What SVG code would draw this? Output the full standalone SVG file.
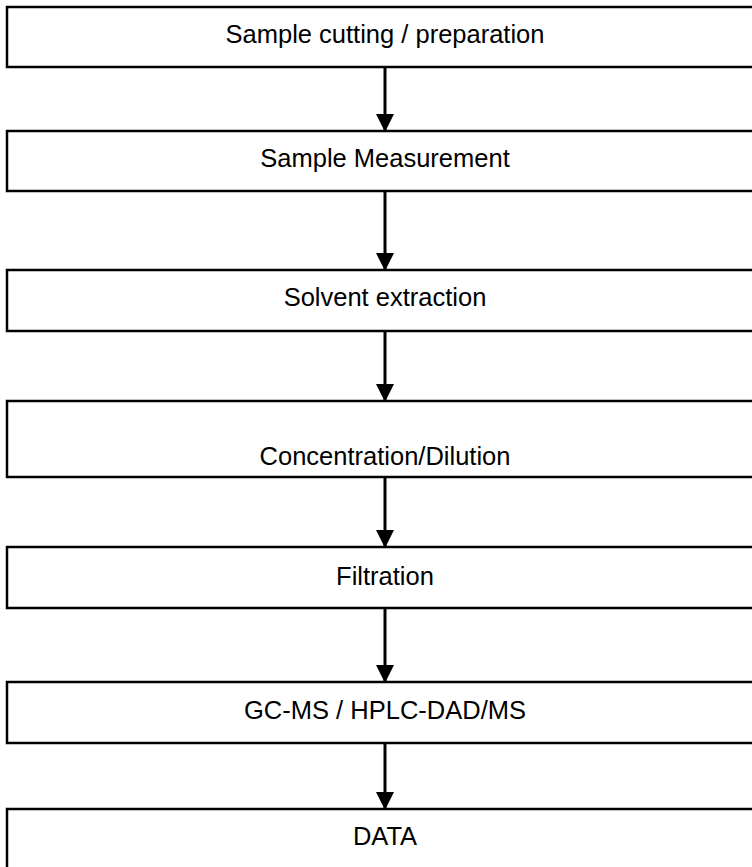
<svg xmlns="http://www.w3.org/2000/svg" width="752" height="867" viewBox="0 0 752 867">
<style>
.box{fill:#fff;stroke:#000;stroke-width:2.5}
.lbl{font-family:"Liberation Sans",Arial,sans-serif;font-size:25.5px;fill:#000;text-anchor:middle}
.con{stroke:#000;stroke-width:3;fill:none;marker-end:url(#ah)}
</style>
<defs>
<marker id="ah" markerUnits="userSpaceOnUse" markerWidth="18" markerHeight="18" refX="17" refY="9" orient="auto">
<path d="M0,0 L18,9 L0,18 Z" fill="#000"/>
</marker>
</defs>
<rect width="752" height="867" fill="#fff"/>
<g id="connectors">
<line class="con" x1="385" y1="67" x2="385" y2="131"/>
<line class="con" x1="385" y1="191" x2="385" y2="270"/>
<line class="con" x1="385" y1="331" x2="385" y2="401"/>
<line class="con" x1="385" y1="477" x2="385" y2="547"/>
<line class="con" x1="385" y1="608" x2="385" y2="682"/>
<line class="con" x1="385" y1="743" x2="385" y2="809"/>
</g>
<g id="n1"><rect class="box" x="7" y="7" width="760" height="60"/><text class="lbl" x="385" y="42.5">Sample cutting / preparation</text></g>
<g id="n2"><rect class="box" x="7" y="131" width="760" height="60"/><text class="lbl" x="385" y="166.5">Sample Measurement</text></g>
<g id="n3"><rect class="box" x="7" y="270" width="760" height="61"/><text class="lbl" x="385" y="306">Solvent extraction</text></g>
<g id="n4"><rect class="box" x="7" y="401" width="760" height="76"/><text class="lbl" x="385" y="464.5">Concentration/Dilution</text></g>
<g id="n5"><rect class="box" x="7" y="547" width="760" height="61"/><text class="lbl" x="385" y="584.5">Filtration</text></g>
<g id="n6"><rect class="box" x="7" y="682" width="760" height="61"/><text class="lbl" x="385" y="718.5">GC-MS / HPLC-DAD/MS</text></g>
<g id="n7"><rect class="box" x="7" y="809" width="760" height="70"/><text class="lbl" x="385" y="845">DATA</text></g>
</svg>
